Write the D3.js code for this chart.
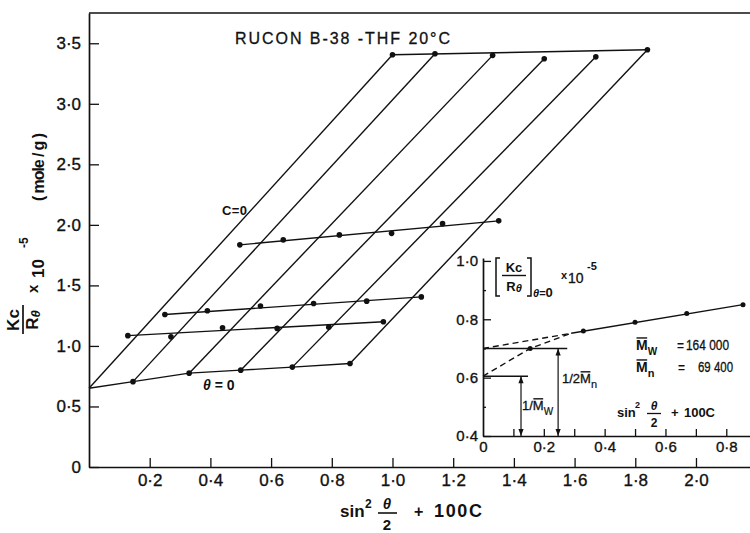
<!DOCTYPE html>
<html><head><meta charset="utf-8">
<script src="https://cdn.jsdelivr.net/npm/d3@7"></script>
<style>
body{margin:0;background:#fff}
svg{display:block;background:#fff}
text{font-family:"Liberation Sans",Arial,sans-serif;fill:#111}
</style>
</head><body>
<svg id="c" width="750" height="533"></svg>
<script>
// ---------------- DATA ----------------
const xTicks = [0.2,0.4,0.6,0.8,1.0,1.2,1.4,1.6,1.8,2.0];
const yTicks = [0,0.5,1.0,1.5,2.0,2.5,3.0,3.5];

// zero-angle extrapolation (theta = 0), starts at the c=0 / theta=0 intercept
const theta0Line = [[0,0.65],[0.145,0.705],[0.33,0.775],[0.50,0.80],[0.67,0.825],[0.86,0.855]];
const theta0Dots = [[0.145,0.705],[0.33,0.775],[0.50,0.80],[0.67,0.825],[0.86,0.855]];

// measured constant-angle series (dots) and their drawn lines
const angleA = [[0.128,1.085],[0.27,1.075],[0.44,1.15],[0.62,1.145],[0.79,1.155],[0.97,1.20]];
const angleB = [[0.25,1.26],[0.39,1.29],[0.565,1.33],[0.74,1.35],[0.915,1.37],[1.095,1.405]];
const angleC = [[0.497,1.835],[0.64,1.876],[0.825,1.917],[0.997,1.93],[1.165,2.01],[1.35,2.033]];
const angleD = [[1.0,3.405],[1.14,3.413],[1.33,3.40],[1.50,3.372],[1.67,3.388],[1.84,3.446]];
const angleLineA = [[0.128,1.085],[0.97,1.20]];
const angleLineB = [[0.25,1.26],[1.095,1.405]];
const angleLineC = [[0.497,1.835],[1.35,2.033]];
const angleLineD = [[1.0,3.405],[1.84,3.446]];

// constant-concentration lines (c = 0 first)
const concLine0 = [[0,0.65],[1.0,3.405]];
const concLine1 = [[0.145,0.705],[1.14,3.413]];
const concLine2 = [[0.33,0.775],[1.33,3.40]];
const concLine3 = [[0.50,0.80],[1.50,3.372]];
const concLine4 = [[0.67,0.825],[1.67,3.388]];
const concLine5 = [[0.86,0.855],[1.84,3.446]];

// inset: [Kc/R]theta=0 vs sin^2(theta/2)+100C
const insetXTicks = [0.1,0.2,0.3,0.4,0.5,0.6,0.7,0.8];
const insetXLabels = [0,0.2,0.4,0.6,0.8];
const insetYMajor = [0.4,0.6,0.8,1.0];
const insetYMinor = [0.5,0.7,0.9];
const insetDots = [[0.155,0.70],[0.33,0.76],[0.50,0.79],[0.67,0.82],[0.855,0.85]];
const insetSolid = [[0.29,0.752],[0.86,0.851]];
const insetDashUpper = [[0,0.70],[0.29,0.752]];
const insetDashLower = [[0,0.605],[0.155,0.70],[0.29,0.752]];
const insetLevelMn = [[0,0.70],[0.277,0.70]];
const insetLevelMw = [[0,0.605],[0.148,0.605]];
const arrowMw = [[0.125,0.4],[0.125,0.605]];
const arrowMn = [[0.247,0.4],[0.247,0.70]];

// ---------------- DRAW ----------------
const svg = d3.select("#c");
const fmt = d => d === 0 ? "0" : d3.format(".1f")(d).replace(".", "\u00b7");
const FONT = '"Liberation Sans",Arial,sans-serif';

const x = d3.scaleLinear().domain([0, 2.178]).range([89, 750]);
const y = d3.scaleLinear().domain([0, 3.75]).range([467, 13]);
const ln = d3.line().x(d => x(d[0])).y(d => y(d[1]));

function styleAxis(g, size) {
  g.attr("font-family", null).attr("font-size", null);
  g.select(".domain").attr("stroke", "#111").attr("stroke-width", 1.7);
  g.selectAll(".tick line").attr("stroke", "#111").attr("stroke-width", 1.3);
  g.selectAll(".tick text").attr("font-size", size).attr("fill", "#111")
    .attr("stroke", "#111").attr("stroke-width", 0.35).style("font-family", FONT);
}

// main axes
svg.append("g").attr("transform", "translate(0,467)")
  .call(d3.axisBottom(x).tickValues(xTicks).tickSize(-9).tickSizeOuter(0).tickPadding(7).tickFormat(fmt))
  .call(g => styleAxis(g, 17));
svg.append("g").attr("transform", "translate(89,0)")
  .call(d3.axisLeft(y).tickValues(yTicks).tickSize(-10).tickSizeOuter(0).tickPadding(8).tickFormat(fmt))
  .call(g => styleAxis(g, 17));
svg.append("line").attr("x1", x(0)).attr("x2", x(2.178)).attr("y1", y(3.75)).attr("y2", y(3.75))
  .attr("stroke", "#111").attr("stroke-width", 1.7);

const plot = svg.append("g").attr("fill", "none").attr("stroke", "#111").attr("stroke-width", 1.4);
[theta0Line, angleLineA, angleLineB, angleLineC, angleLineD,
 concLine0, concLine1, concLine2, concLine3, concLine4, concLine5].forEach(d => {
  plot.append("path").attr("d", ln(d));
});
[theta0Dots, angleA, angleB, angleC, angleD].forEach(s => {
  svg.append("g").selectAll("circle").data(s).join("circle")
    .attr("cx", d => x(d[0])).attr("cy", d => y(d[1])).attr("r", 2.8).attr("fill", "#111");
});

function txt(g, s, xx, yy, o = {}) {
  const t = g.append("text").attr("x", xx).attr("y", yy)
    .attr("font-size", o.size || 15).attr("font-weight", o.weight || "normal")
    .attr("text-anchor", o.anchor || "start");
  if (o.italic) t.attr("font-style", "italic");
  if (o.len) t.attr("textLength", o.len).attr("lengthAdjust", o.adj || "spacing");
  if (o.thick) t.attr("stroke", "#111").attr("stroke-width", o.thick);
  t.text(s);
  return t;
}
function hline(g, x1, x2, yy, w = 1.3) {
  g.append("line").attr("x1", x1).attr("x2", x2).attr("y1", yy).attr("y2", yy)
    .attr("stroke", "#111").attr("stroke-width", w);
}
// sequential pieces of text: [{s,size,weight,italic,dy,bar,gap}]
function seq(g, xx, yy, parts) {
  let cx = xx;
  parts.forEach(p => {
    cx += p.gap || 0;
    const t = txt(g, p.s, cx, yy + (p.dy || 0), {size: p.size, weight: p.weight, italic: p.italic, thick: p.thick});
    const w = t.node().getComputedTextLength();
    if (p.bar) hline(g, cx + 0.5, cx + w - 0.5, yy - p.size * 0.86, 1.4);
    cx += w;
  });
  return cx;
}

// labels in main plot
txt(svg, "RUCON  B-38  -THF  20°C", 235, 44, {size: 16, len: 215, thick: 0.3});
txt(svg, "C = 0", 222, 215, {size: 13, weight: "bold", len: 25});
const th = txt(svg, "", 203, 390, {size: 14, weight: "bold"});
th.append("tspan").attr("font-style", "italic").text("θ");
th.append("tspan").text(" = 0");

// y-axis title (rotated)
const yt = svg.append("g").attr("transform", "translate(0,336) rotate(-90)");
txt(yt, "Kc", 16, 19, {size: 17, weight: "bold", anchor: "middle"});
hline(yt, 2, 31, 23, 1.7);
const rt = txt(yt, "", 16, 38, {size: 17, weight: "bold", anchor: "middle"});
rt.append("tspan").text("R");
rt.append("tspan").attr("font-size", 13).attr("font-style", "italic").attr("dy", 2).text("θ");
txt(yt, "x", 43, 38, {size: 15, weight: "bold"});
txt(yt, "10", 58, 44, {size: 17, weight: "bold"});
txt(yt, "-5", 88, 28, {size: 12, weight: "bold"});
txt(yt, "( mole / g )", 135, 44, {size: 16, weight: "bold", len: 68});

// x-axis title
txt(svg, "sin", 340, 517, {size: 17, weight: "bold"});
txt(svg, "2", 365, 508, {size: 12, weight: "bold"});
txt(svg, "θ", 387, 509, {size: 15, weight: "bold", italic: true, anchor: "middle"});
hline(svg, 378, 397, 513, 1.6);
txt(svg, "2", 387, 530, {size: 15, weight: "bold", anchor: "middle"});
txt(svg, "+", 414, 517, {size: 16, weight: "bold"});
txt(svg, "100C", 434, 517, {size: 18, weight: "bold", len: 48});

// ---------------- INSET ----------------
const xi = d3.scaleLinear().domain([0, 0.878]).range([483, 750]);
const yi = d3.scaleLinear().domain([0.4, 1.01]).range([436, 258]);
const li = d3.line().x(d => xi(d[0])).y(d => yi(d[1]));

svg.append("g").attr("transform", "translate(0,436)")
  .call(d3.axisBottom(xi).tickValues(insetXTicks).tickSize(-7).tickSizeOuter(0).tickFormat(""))
  .call(g => styleAxis(g, 15));
svg.append("g").attr("transform", "translate(0,436)")
  .call(d3.axisBottom(xi).tickValues(insetXLabels).tickSize(0).tickSizeOuter(0).tickPadding(5).tickFormat(fmt))
  .call(g => { styleAxis(g, 15); g.select(".domain").remove(); });
svg.append("g").attr("transform", "translate(483,0)")
  .call(d3.axisLeft(yi).tickValues(insetYMajor).tickSize(-8).tickSizeOuter(0).tickPadding(5).tickFormat(fmt))
  .call(g => styleAxis(g, 15));
svg.append("g").attr("transform", "translate(483,0)")
  .call(d3.axisLeft(yi).tickValues(insetYMinor).tickSize(-3).tickSizeOuter(0).tickFormat(""))
  .call(g => { styleAxis(g, 15); g.select(".domain").remove(); });

const ins = svg.append("g").attr("fill", "none").attr("stroke", "#111").attr("stroke-width", 1.4);
ins.append("path").attr("d", li(insetSolid));
ins.append("path").attr("d", li(insetDashUpper)).attr("stroke-dasharray", "6,4");
ins.append("path").attr("d", li(insetDashLower)).attr("stroke-dasharray", "6,4");
ins.append("path").attr("d", li(insetLevelMn));
ins.append("path").attr("d", li(insetLevelMw));
svg.append("g").selectAll("circle").data(insetDots).join("circle")
  .attr("cx", d => xi(d[0])).attr("cy", d => yi(d[1])).attr("r", 2.5).attr("fill", "#111");

function dblArrow(a) {
  const x0 = xi(a[0][0]), yb = yi(a[0][1]), yt2 = yi(a[1][1]);
  ins.append("line").attr("x1", x0).attr("x2", x0).attr("y1", yb).attr("y2", yt2).attr("stroke-width", 1.2);
  svg.append("path").attr("fill", "#111")
    .attr("d", `M${x0},${yt2}l-2.6,7h5.2z M${x0},${yb}l-2.6,-7h5.2z`);
}
dblArrow(arrowMw);
dblArrow(arrowMn);

// inset labels: [Kc/R]theta=0 x 10^-5
svg.append("path").attr("fill", "none").attr("stroke", "#111").attr("stroke-width", 1.5)
  .attr("d", "M500,258H496V296H500 M527,258H531V296H527");
txt(svg, "Kc", 514, 272, {size: 13, weight: "bold", anchor: "middle"});
hline(svg, 502, 526, 275.5, 1.4);
const rti = txt(svg, "", 514, 291, {size: 13, weight: "bold", anchor: "middle"});
rti.append("tspan").text("R");
rti.append("tspan").attr("font-size", 11).attr("font-style", "italic").attr("dy", 1).text("θ");
const sub = txt(svg, "", 533, 297, {size: 11, weight: "bold"});
sub.append("tspan").attr("font-style", "italic").text("θ");
sub.append("tspan").text("=");
sub.append("tspan").attr("font-size", 13).text("0");
txt(svg, "x", 561, 279, {size: 11, weight: "bold"});
txt(svg, "10", 568, 283, {size: 14, thick: 0.3});
txt(svg, "-5", 587, 270, {size: 11, weight: "bold"});

// Mw / Mn values
seq(svg, 636, 350, [{s: "M", size: 14, weight: "bold", bar: true}, {s: "W", size: 10, weight: "bold", dy: 5}]);
txt(svg, "=", 677, 350, {size: 12, weight: "bold"});
txt(svg, "164 000", 686, 350, {size: 14, len: 43, adj: "spacingAndGlyphs", thick: 0.3});
seq(svg, 636, 372, [{s: "M", size: 14, weight: "bold", bar: true}, {s: "n", size: 11, weight: "bold", dy: 5}]);
txt(svg, "=", 678, 372, {size: 12, weight: "bold"});
txt(svg, "69 400", 698, 372, {size: 14, len: 35, adj: "spacingAndGlyphs", thick: 0.3});

seq(svg, 522, 410, [{s: "1/", size: 13, thick: 0.3}, {s: "M", size: 13, bar: true, thick: 0.3},
                    {s: "W", size: 10, dy: 5, thick: 0.2}]);
seq(svg, 562, 383, [{s: "1/2", size: 13, thick: 0.3}, {s: "M", size: 13, bar: true, thick: 0.3},
                    {s: "n", size: 11, dy: 5, thick: 0.2}]);

// inset x title
txt(svg, "sin", 617, 417, {size: 13, weight: "bold"});
txt(svg, "2", 635, 408, {size: 9, weight: "bold"});
txt(svg, "θ", 654, 410, {size: 12, weight: "bold", italic: true, anchor: "middle"});
hline(svg, 647, 661, 413.5, 1.3);
txt(svg, "2", 654, 427, {size: 12, weight: "bold", anchor: "middle"});
txt(svg, "+", 671, 417, {size: 13, weight: "bold"});
txt(svg, "100C", 684, 417, {size: 13, weight: "bold", len: 31});
</script>
</body></html>
